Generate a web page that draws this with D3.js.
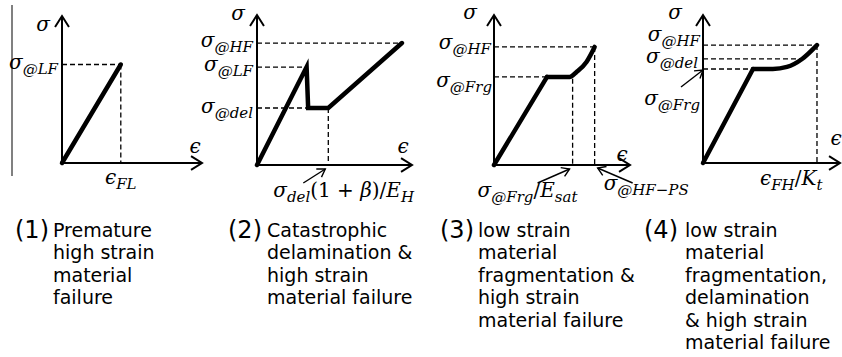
<!DOCTYPE html>
<html>
<head>
<meta charset="utf-8">
<script src="https://cdn.jsdelivr.net/npm/d3@7"></script>
<style>
body { margin: 0; background: #fff; }
.math { font-family: "DejaVu Serif", serif; font-style: italic; }
.caption { font-family: "DejaVu Sans", Verdana, sans-serif; font-size: 19px; }
</style>
</head>
<body>
<div id="chart"></div>
<script>
// stress-strain sketches, values are fractions of the axis length
var curve1 = [[0, 0], [0.42, 0.67]];
var curve2 = [[0, 0], [0.32, 0.653], [0.33, 0.38], [0.46, 0.38], [0.935, 0.813]];
var curve3 = [[0, 0], [0.39, 0.587], [0.556, 0.587], [0.607, 0.62], [0.68, 0.687], [0.74, 0.787]];
var curve4 = [[0, 0], [0.365, 0.635], [0.51, 0.635], [0.613, 0.649], [0.723, 0.703], [0.832, 0.797]];

// dashed guides: [strain, stress]
var hGuides = [
    [[0.42, 0.67]],
    [[0.935, 0.813], [0.32, 0.653], [0.46, 0.38]],
    [[0.74, 0.787], [0.39, 0.587]],
    [[0.832, 0.797], [0.723, 0.703], [0.365, 0.635]]
];
var vGuides = [
    [[0.42, 0.67]],
    [[0.46, 0.38]],
    [[0.578, 0.575], [0.74, 0.787]],
    [[0.832, 0.797]]
];

// stress level labels (subscript, level)
var yLabels = [
    [["@LF", 0.67]],
    [["@HF", 0.813], ["@LF", 0.653], ["@del", 0.38]],
    [["@HF", 0.787], ["@Frg", 0.587]],
    [["@HF", 0.797], ["@del", 0.703], ["@Frg", 0.635]]
];

// strain labels: segments [text, kind] i = italic, s = subscript, r = roman
var xLabels = [
    [[["ϵ", "i"], ["FL", "s"]]],
    [[["σ", "i"], ["del", "s"], ["(1 + ", "r"], ["β", "i"], [")/", "r"], ["E", "i"], ["H", "s"]]],
    [[["σ", "i"], ["@Frg", "s"], ["/", "r"], ["E", "i"], ["sat", "s"]], [["σ", "i"], ["@HF−PS", "s"]]],
    [[["ϵ", "i"], ["FH", "s"], ["/", "r"], ["K", "i"], ["t", "s"]]]
];

var numbers = ["(1)", "(2)", "(3)", "(4)"];
var captions = [
    ["Premature", "high strain", "material", "failure"],
    ["Catastrophic", "delamination &", "high strain", "material failure"],
    ["low strain", "material", "fragmentation &", "high strain", "material failure"],
    ["low strain", "material", "fragmentation,", "delamination", "& high strain", "material failure"]
];

var curves = [curve1, curve2, curve3, curve4];

// layout of each panel; xl = [dx, dy, anchor, guide index]
var layout = [
    {ox: 62, oy: 163, xt: 202, yt: 16, sig: [-12, 15], eps: [-7, -10], num: 15, cap: 53,
     yl: [[-4, 4]], xl: [[0, 21, "middle", 0]], arrows: []},
    {ox: 257, oy: 165, xt: 412, yt: 15, sig: [-12, 5], eps: [-9, -12], num: 228, cap: 267,
     yl: [[-4, 4], [-4, 4], [-4, 5]], xl: [[-55, 32, "start", 0]],
     arrows: [[0.46, -3, 4, -22, 14]]},
    {ox: 494, oy: 165, xt: 630, yt: 15, sig: [-17, 4], eps: [-8, -4], num: 440, cap: 478,
     yl: [[-3, 2], [-2, 10]], xl: [[-95, 32, "start", 0], [9, 25, "start", 1]],
     arrows: [[0.578, -3, 4, -32, 14], [0.74, 3, 3, 35, 15]]},
    {ox: 703, oy: 163, xt: 840, yt: 15, sig: [-21, 4], eps: [-4, -18], num: 644, cap: 685,
     yl: [[-3, -4], [-5, 4], [-3, 36]], xl: [[-57, 22, "start", 0]],
     arrows: [[-1, 0, 0, -22, 17, 0.635]]}
];

var svg = d3.select("#chart")
    .append("svg")
    .attr("width", 842)
    .attr("height", 357);

// gray rule on the far left
svg.append("line")
    .attr("x1", 12).attr("x2", 12)
    .attr("y1", 5).attr("y2", 176)
    .attr("stroke", "#808080")
    .attr("stroke-width", 2);

function rich(g, segs, x, y, anchor) {
    var t = g.append("text")
        .attr("class", "math")
        .attr("x", x)
        .attr("y", y)
        .attr("text-anchor", anchor);
    var sub = false;
    segs.forEach(function (s) {
        var ts = t.append("tspan").text(s[0]);
        if (s[1] == "s") {
            ts.attr("font-size", 15);
            if (!sub) ts.attr("dy", 5);
            sub = true;
        } else {
            ts.attr("font-size", 20)
                .attr("font-style", s[1] == "r" ? "normal" : "italic");
            if (sub) ts.attr("dy", -5);
            sub = false;
        }
    });
    return t;
}

function arrow(g, x1, y1, x2, y2, len, w) {
    // line from (x1,y1) with open head at (x2,y2)
    g.append("line")
        .attr("x1", x1).attr("y1", y1).attr("x2", x2).attr("y2", y2)
        .attr("stroke", "#000").attr("stroke-width", w);
    var a = Math.atan2(y2 - y1, x2 - x1);
    var p = [a + Math.PI * 0.82, a - Math.PI * 0.82].map(function (b) {
        return [x2 + len * Math.cos(b), y2 + len * Math.sin(b)];
    });
    g.append("path")
        .attr("d", "M" + p[0] + "L" + [x2, y2] + "L" + p[1])
        .attr("fill", "none")
        .attr("stroke", "#000")
        .attr("stroke-width", w);
}

layout.forEach(function (L, i) {
    var g = svg.append("g");
    var x = d3.scaleLinear().domain([0, 1]).range([L.ox, L.xt]);
    var y = d3.scaleLinear().domain([0, 1]).range([L.oy, L.yt]);

    // dashed guides
    hGuides[i].forEach(function (d) {
        g.append("line")
            .attr("x1", x(0)).attr("x2", x(d[0]))
            .attr("y1", y(d[1])).attr("y2", y(d[1]))
            .attr("stroke", "#000").attr("stroke-width", 1.3)
            .attr("stroke-dasharray", "5,3");
    });
    vGuides[i].forEach(function (d) {
        g.append("line")
            .attr("x1", x(d[0])).attr("x2", x(d[0]))
            .attr("y1", y(d[1])).attr("y2", y(0))
            .attr("stroke", "#000").attr("stroke-width", 1.3)
            .attr("stroke-dasharray", "5,3");
    });

    // axes with open arrow heads
    arrow(g, x(0), y(0), x(0), y(1), 13, 2);
    arrow(g, x(0), y(0), x(1), y(0), 13, 2);

    // curve: straight loading, then smooth part after the knee (panels 3, 4)
    var line = d3.line()
        .x(function (d) { return x(d[0]); })
        .y(function (d) { return y(d[1]); });
    var parts = i >= 2 ? [curves[i].slice(0, 2), curves[i].slice(1)] : [curves[i]];
    parts.forEach(function (pts, k) {
        g.append("path")
            .datum(pts)
            .attr("d", line.curve(k == 1 ? d3.curveMonotoneX : d3.curveLinear))
            .attr("fill", "none")
            .attr("stroke", "#000")
            .attr("stroke-width", 4.5)
            .attr("stroke-linecap", "round")
            .attr("stroke-linejoin", "miter");
    });

    // axis names
    g.append("text").attr("class", "math")
        .attr("x", x(0) + L.sig[0]).attr("y", y(1) + L.sig[1])
        .attr("text-anchor", "end").attr("font-size", 20)
        .text("σ");
    g.append("text").attr("class", "math")
        .attr("x", x(1) + L.eps[0]).attr("y", y(0) + L.eps[1])
        .attr("text-anchor", "middle").attr("font-size", 20)
        .text("ϵ");

    // stress level labels
    yLabels[i].forEach(function (d, j) {
        rich(g, [["σ", "i"], [d[0], "s"]], x(0) + L.yl[j][0], y(d[1]) + L.yl[j][1], "end");
    });

    // strain labels
    L.xl.forEach(function (p) {
        var ref = vGuides[i][p[3]][0];
        rich(g, xLabels[i][p[3]], x(ref) + p[0], y(0) + p[1], p[2]);
    });

    // pointer arrows
    L.arrows.forEach(function (a) {
        var tx, ty;
        if (a.length > 5) { tx = x(0) + a[1]; ty = y(a[5]) + a[2] + 1; }
        else { tx = x(a[0]) + a[1]; ty = y(0) + a[2]; }
        arrow(g, tx + a[3], ty + a[4], tx, ty, 9, 1.4);
    });

    // captions
    g.append("text").attr("class", "caption")
        .attr("x", L.num).attr("y", 238)
        .style("font-size", "24px")
        .text(numbers[i]);
    captions[i].forEach(function (c, k) {
        g.append("text").attr("class", "caption")
            .attr("x", L.cap).attr("y", 237 + k * 22.4)
            .text(c);
    });
});
</script>
</body>
</html>
